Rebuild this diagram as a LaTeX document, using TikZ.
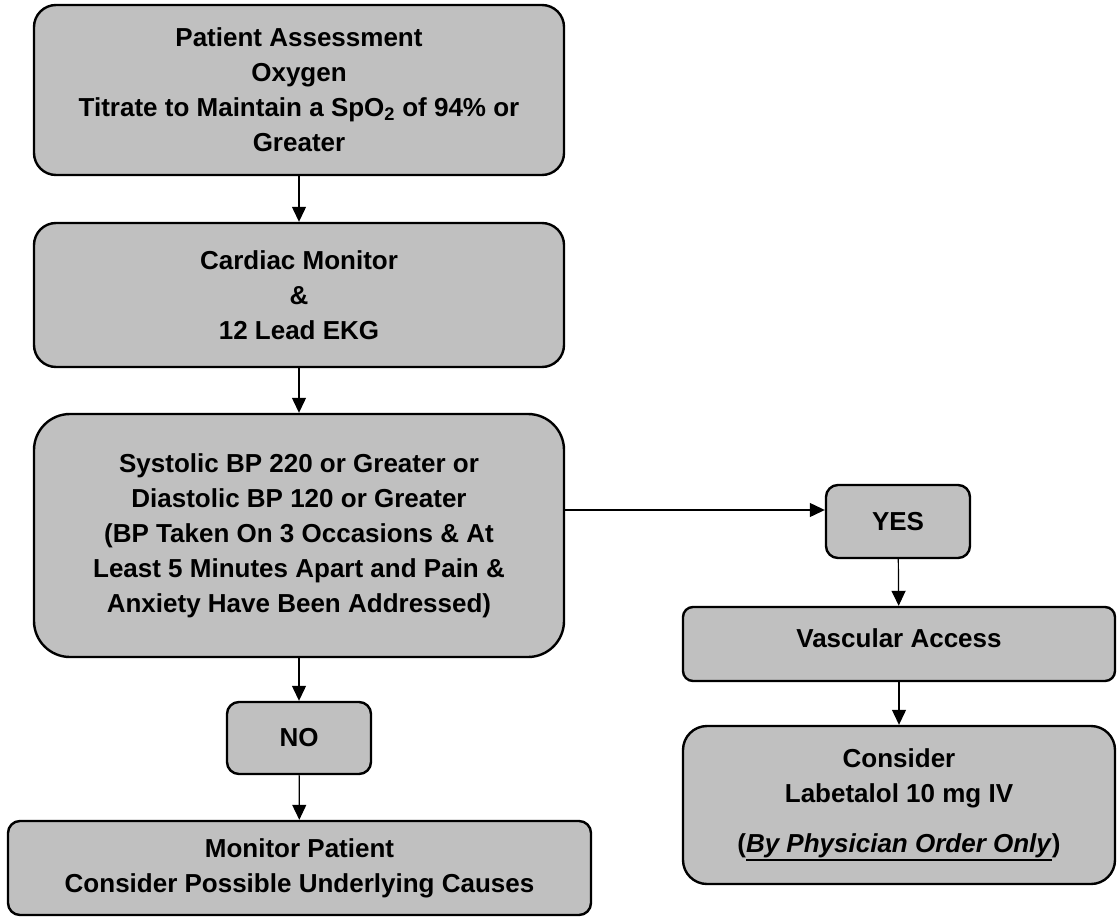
\documentclass[tikz,border=0pt]{standalone}
\usepackage{fontspec}
\setmainfont{Liberation Sans}
\usepackage{tikz}
\usetikzlibrary{arrows.meta,shapes}
\definecolor{boxgray}{RGB}{192,192,192}
\newcommand{\unitpx}{1pt}
\newcommand{\boxline}{2.4pt}
\newcommand{\arrline}{1.2pt}
\newcommand{\thickul}[1]{\vtop{\hbox{#1}\kern1.2pt\hrule height 2pt}}

\begin{document}
\begin{tikzpicture}[x=\unitpx,y=-\unitpx]
	
	\useasboundingbox (0,0) rectangle (1118,917);
	%\draw[help lines,step=50] (0,0) grid (1118,917);
	\tikzset{FlowBox/.style = {draw=black, line width=\boxline, fill=boxgray, align=center,
			inner sep=0pt, font=\bfseries\fontsize{26}{35}\selectfont}}
	\tikzset{Link/.style = {line width=\arrline, -{Triangle[length=15pt,width=14pt]}}}
	% left column
	\node[FlowBox, rounded corners=22pt, minimum width=530pt, minimum height=170pt] (assess) at (299,90)
		{Patient Assessment\\ Oxygen\\ Titrate to Maintain a SpO\textsubscript{2} of 94\% or\\ Greater};
	\node[FlowBox, rounded corners=22pt, minimum width=530pt, minimum height=144pt] (cardiac) at (299,295)
		{Cardiac Monitor\\ \&\\ 12 Lead EKG};
	\node[FlowBox, rounded corners=36pt, minimum width=530pt, minimum height=243pt] (bp) at (299,535.5)
		{Systolic BP 220 or Greater or\\ Diastolic BP 120 or Greater\\ (BP Taken On 3 Occasions \& At\\
		 Least 5 Minutes Apart and Pain \&\\ Anxiety Have Been Addressed)};
	\node[FlowBox, rounded corners=12pt, minimum width=144pt, minimum height=72pt] (no) at (299,738) {NO};
	\node[FlowBox, rounded corners=12pt, minimum width=583pt, minimum height=94pt] (watch) at (299.5,868)
		{Monitor Patient\\ Consider Possible Underlying Causes};
	% right column
	\node[FlowBox, rounded corners=12pt, minimum width=144pt, minimum height=73pt] (yes) at (898,521.5) {YES};
	\node[FlowBox, rounded corners=10pt, minimum width=432pt, minimum height=74pt,
		text height=19pt, text depth=12pt] (access) at (899,644) {Vascular Access};
	\node[FlowBox, rounded corners=24pt, minimum width=432pt, minimum height=158pt] (labet) at (899,805)
		{Consider\\ Labetalol 10 mg IV\\[15pt] (\thickul{\textit{By Physician Order Only}})};
	\coordinate (yesin) at ([yshift=11.5pt]yes.west);
	
	\draw[Link] (assess) -- (cardiac);
	\draw[Link] (cardiac) -- (bp);
	\draw[Link] (bp) -- (no);
	\draw[Link] (no) -- (watch);
	\draw[Link] (bp.east |- yesin) -- (yesin);
	\draw[Link] (yes) -- (access);
	\draw[Link] (access) -- (labet);
	\end{tikzpicture}
\end{document}
